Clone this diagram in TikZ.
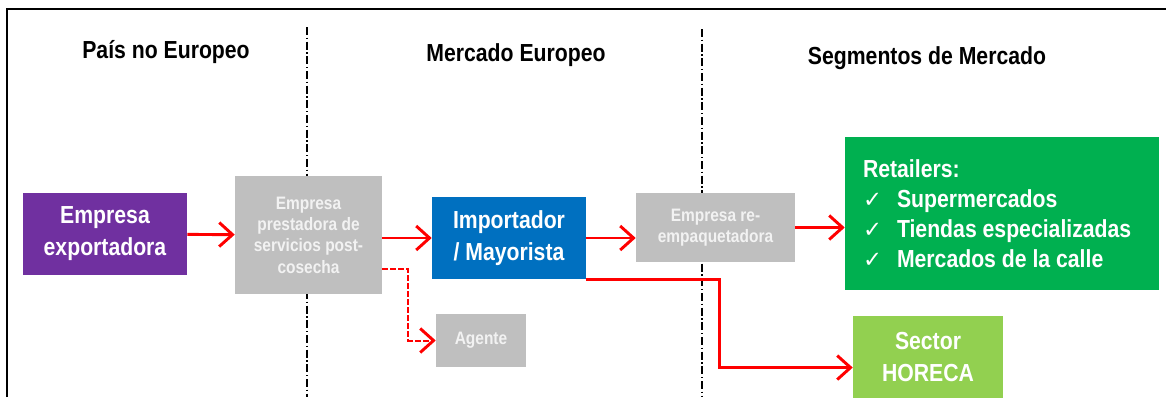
\documentclass[tikz,border=0pt]{standalone}
\usepackage{fontspec}
\setmainfont{Liberation Sans}[FakeStretch=0.86]
\newfontfamily\checkfont{DejaVu Sans}
\usetikzlibrary{arrows.meta}
\definecolor{violeta}{HTML}{7030A0}
\definecolor{gris}{HTML}{BFBFBF}
\definecolor{azul}{HTML}{0070C0}
\definecolor{verde}{HTML}{00B050}
\definecolor{verdeclaro}{HTML}{92D050}
\definecolor{blanco}{HTML}{F2F2F2}

\begin{document}
\begin{tikzpicture}[x=0.75pt, y=-0.75pt,
  box/.style = {inner sep=0pt, text=white, align=center, font=\fontsize{18.5}{24}\selectfont\bfseries},
  greybox/.style = {box, fill=gris, text=blanco, font=\fontsize{13.5}{16}\selectfont\bfseries},
  title/.style = {font=\fontsize{18.5}{22}\selectfont\bfseries},
  flow/.style = {red, line width=2.2pt, -{Straight Barb[length=10pt, width=18pt, line width=2.2pt]}}]
                \useasboundingbox (0,0) rectangle (1166,397);
                \fill[white] (0,0) rectangle (1166,397);
                \clip (0,0) rectangle (1166,397);
                \draw[line width=1.5pt] (7,397) -- (7,9) -- (1166,9);
                \draw[line width=1pt, dash pattern=on 6pt off 2pt on 1pt off 2pt] (307,27) -- (307,397);
                \draw[line width=1pt, dash pattern=on 6pt off 2pt on 1pt off 2pt] (702,29) -- (702,397);
                \node[title] (t1) at (166,52) {País no Europeo};
                \node[title] (t2) at (516,55) {Mercado Europeo};
                \node[title] (t3) at (927,58) {Segmentos de Mercado};
                \node[box, fill=violeta, minimum width=123pt, minimum height=61.5pt] (1) at (105,234) {Empresa\\exportadora};
                \node[greybox, minimum width=110.25pt, minimum height=88.5pt] (2) at (308.5,235) {Empresa\\prestadora de\\servicios post-\\cosecha};
                \node[box, fill=azul, minimum width=115.5pt, minimum height=61.5pt] (3) at (509,238) {Importador\\/ Mayorista};
                \node[greybox, minimum width=119.25pt, minimum height=51.75pt] (4) at (715.5,227.5) {Empresa re-\\empaquetadora};
                \node[greybox, minimum width=67.5pt, minimum height=39.75pt] (5) at (481,340.5) {Agente};
                \node[box, fill=verde, align=flush left, text width=208.5pt, inner xsep=13.5pt, minimum height=114.75pt, font=\fontsize{18.5}{22.5}\selectfont\bfseries] (6) at (1002,213.5)
                    {Retailers:\\
                     \makebox[25.5pt][l]{\checkfont\mdseries\fontsize{17}{17}\selectfont ✓}Supermercados\\
                     \makebox[25.5pt][l]{\checkfont\mdseries\fontsize{17}{17}\selectfont ✓}Tiendas especializadas\\
                     \makebox[25.5pt][l]{\checkfont\mdseries\fontsize{17}{17}\selectfont ✓}Mercados de la calle};
                \node[box, fill=verdeclaro, minimum width=112.5pt, minimum height=61.5pt] (7) at (928,357) {Sector\\HORECA};
                \draw[flow] (1) -- (2);
                \draw[flow] (2.east |- 3.west) -- (3.west);
                \draw[flow] (3.east) -- (3.east -| 4.west);
                \draw[flow] (4.east) -- (4.east -| 6.west);
                \draw[flow, line width=1.5pt, dash pattern=on 4pt off 2pt] (2.-25) -- ++(26,0) |- (5.west);
                \draw[flow] (3.south east) -- ++(133,0) |- (7.188);
            \end{tikzpicture}
\end{document}
